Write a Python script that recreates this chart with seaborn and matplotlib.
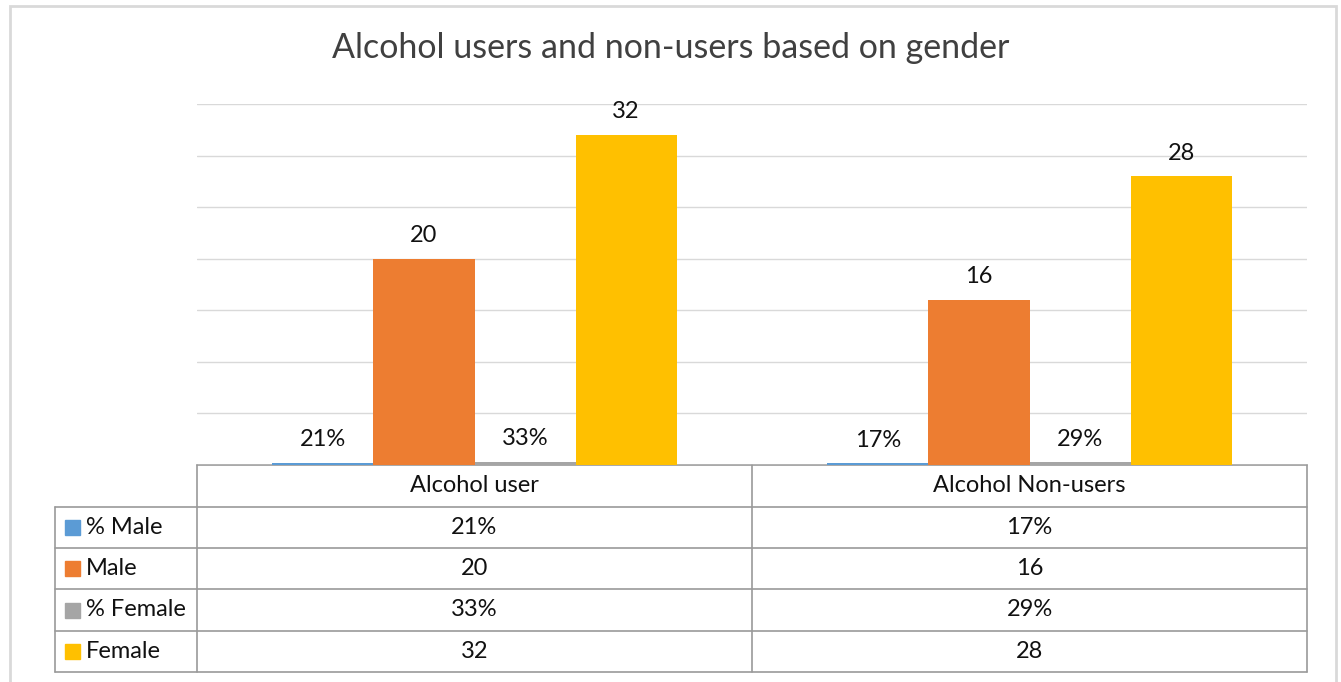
import pandas as pd
import seaborn as sns
import matplotlib.pyplot as plt
from matplotlib.lines import Line2D
from matplotlib.patches import Rectangle

categories = ["Alcohol user", "Alcohol Non-users"]
series = ["% Male", "Male", "% Female", "Female"]
pct_male = [0.21, 0.17]
male = [20, 16]
pct_female = [0.33, 0.29]
female = [32, 28]
colors = ["#5B9BD5", "#ED7D31", "#A5A5A5", "#FFC000"]

values = {"% Male": pct_male, "Male": male, "% Female": pct_female, "Female": female}
is_pct = {"% Male": True, "Male": False, "% Female": True, "Female": False}

rows = []
for s in series:
    for c, v in zip(categories, values[s]):
        rows.append({"group": c, "series": s, "value": v})
df = pd.DataFrame(rows)

sns.set_style("white")
plt.rcParams["font.family"] = ["Lato", "DejaVu Sans"]

W, H = 1341, 682
fig = plt.figure(figsize=(W / 100, H / 100), dpi=100)


def fx(px):
    return px / W


def fy(py):
    return 1 - py / H


ax = fig.add_axes([fx(197), fy(465), fx(1307) - fx(197), fy(104) - fy(465)])
ax.set_zorder(1)
ax.patch.set_visible(False)
sns.barplot(data=df, x="group", y="value", hue="series", hue_order=series,
            order=categories, palette=colors, saturation=1, width=0.728,
            legend=False, linewidth=0, ax=ax)

ax.set_xlim(-0.5, 1.5)
ax.set_ylim(0, 35)
ax.set_yticks(range(0, 36, 5))
ax.set_yticklabels([])
ax.set_xticks([])
ax.set_xlabel("")
ax.set_ylabel("")
ax.tick_params(length=0)
ax.yaxis.grid(True, color="#d9d9d9", lw=1)
ax.set_axisbelow(True)
for sp in ax.spines.values():
    sp.set_visible(False)

txt_col = "#111111"
fs = 17
for cont, s in zip(ax.containers, series):
    vals = values[s]
    labels = [f"{v:.0%}" if is_pct[s] else f"{v}" for v in vals]
    ax.bar_label(cont, labels=labels, padding=9, fontsize=fs, color=txt_col)

fig.suptitle("Alcohol users and non-users based on gender", x=0.5, y=fy(48),
             va="center", fontsize=24.5, color="#404040")

# data table under the plot
grid = "#9a9a9a"
x_left, x_col0, x_mid, x_right = 55, 197, 752, 1307
y_rows = [465, 507, 548, 589, 631, 672]


def hline(y, x0, x1, z=0):
    fig.add_artist(Line2D([fx(x0), fx(x1)], [fy(y), fy(y)], color=grid, lw=1.2,
                          transform=fig.transFigure, zorder=z))


def vline(x, y0, y1):
    fig.add_artist(Line2D([fx(x), fx(x)], [fy(y0), fy(y1)], color=grid, lw=1.2,
                          transform=fig.transFigure, zorder=0))


hline(y_rows[0], x_col0, x_right, z=-1)
for y in y_rows[1:]:
    hline(y, x_left, x_right)
vline(x_left, y_rows[1], y_rows[-1])
vline(x_col0, y_rows[0], y_rows[-1])
vline(x_mid, y_rows[0], y_rows[-1])
vline(x_right, y_rows[0], y_rows[-1])

col_centers = [(x_col0 + x_mid) / 2, (x_mid + x_right) / 2]
for xc, c in zip(col_centers, categories):
    fig.text(fx(xc), fy((y_rows[0] + y_rows[1]) / 2), c, ha="center", va="center",
             fontsize=fs, color=txt_col)

for i, s in enumerate(series):
    yc = (y_rows[i + 1] + y_rows[i + 2]) / 2
    fig.add_artist(Rectangle((fx(65), fy(yc + 7.5)), fx(15), 15 / H,
                             color=colors[i], transform=fig.transFigure))
    fig.text(fx(86), fy(yc), s, ha="left", va="center", fontsize=fs, color=txt_col)
    for xc, v in zip(col_centers, values[s]):
        txt = f"{v:.0%}" if is_pct[s] else f"{v}"
        fig.text(fx(xc), fy(yc), txt, ha="center", va="center", fontsize=fs,
                 color=txt_col)

# chart border
fig.add_artist(Rectangle((fx(10), fy(700)), fx(1336) - fx(10), fy(6) - fy(700),
                         fill=False, ec="#d9d9d9", lw=2, transform=fig.transFigure))

fig.savefig("out.png", dpi=100, facecolor="white")
